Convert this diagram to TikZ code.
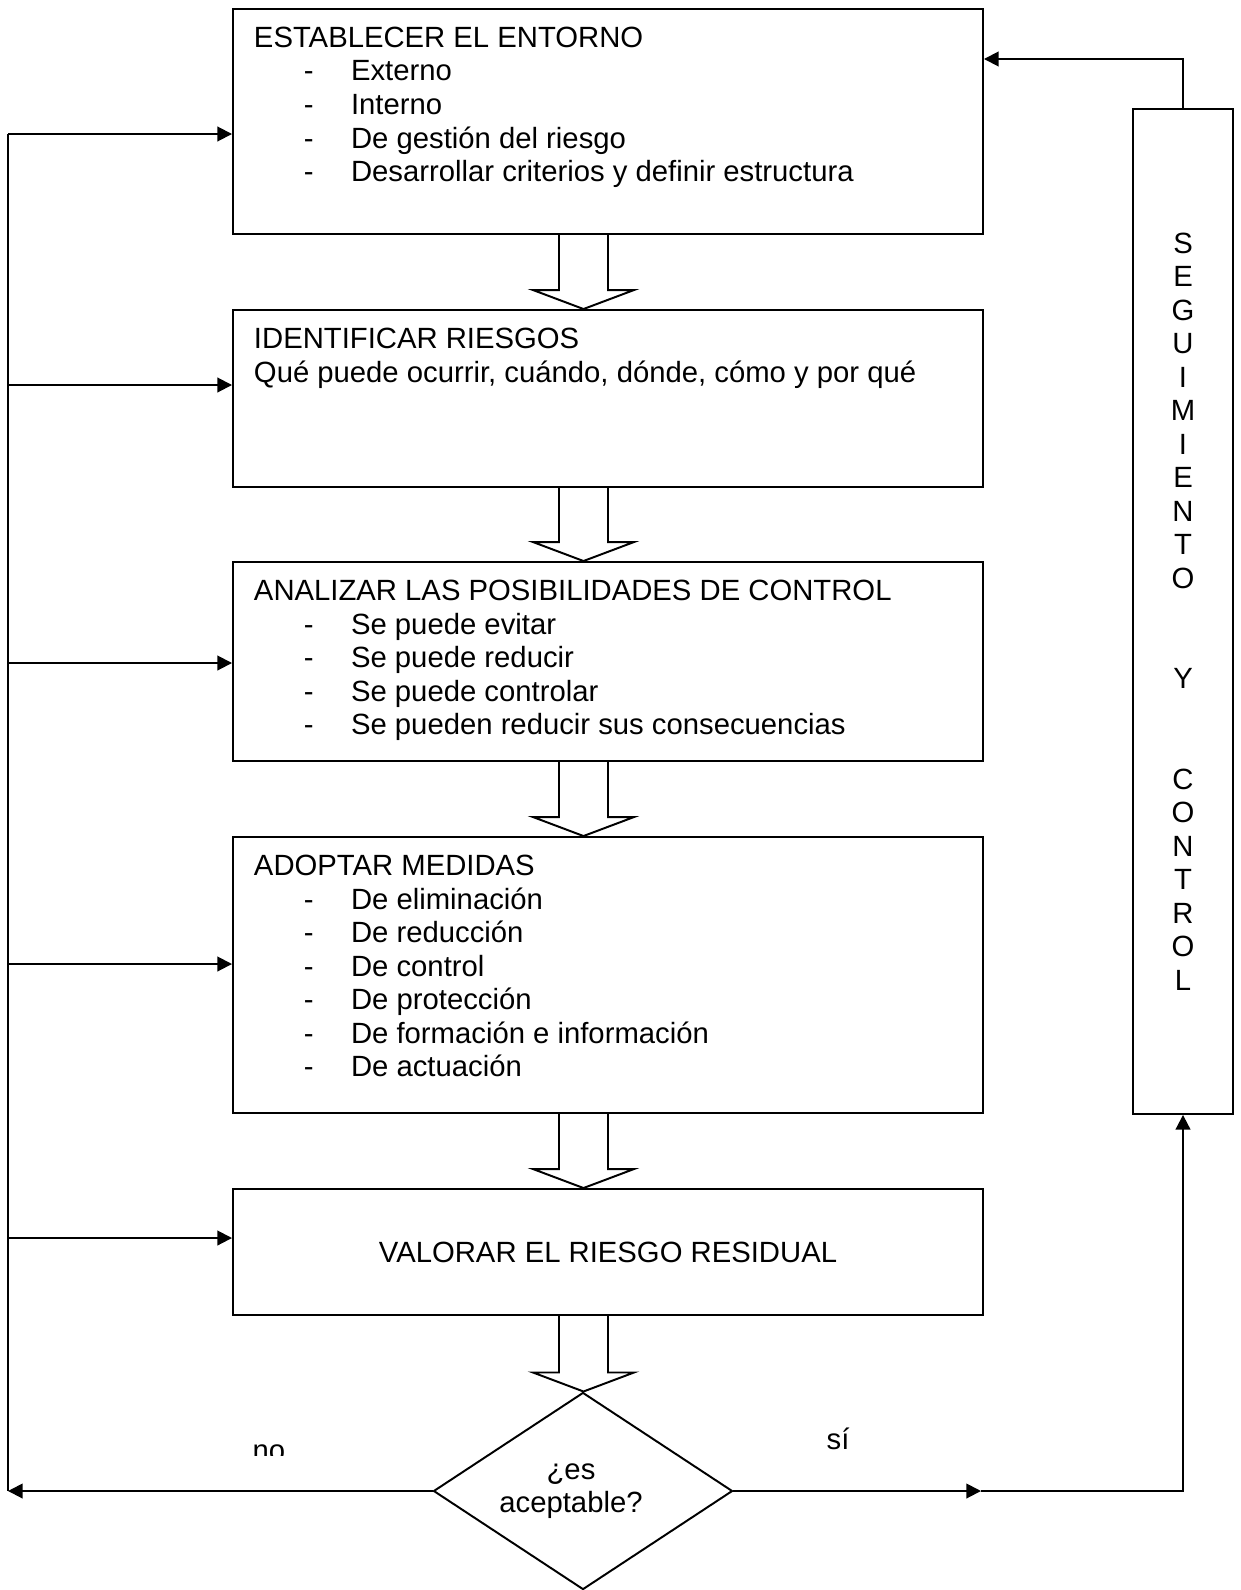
\documentclass[tikz,border=0pt]{standalone}
\usepackage{fontspec}
\setmainfont{Liberation Sans}
\usepackage{tikz}
\usetikzlibrary{arrows.meta,positioning,calc,shapes.geometric}

\newcommand{\itm}[1]{\hspace*{20.5pt}\makebox[19.3pt][l]{-}#1}

\begin{document}
\begin{tikzpicture}[>={Triangle[length=6pt,width=6pt]}, x=0.41pt, y=-0.41pt,
  line width=0.8pt,
  every node/.style={font=\fontsize{12}{13.74}\selectfont},
  box/.style={draw, line width=0.8pt, minimum width=307.5pt, inner sep=0pt},
  txt/.style={inner sep=0pt, align=left}]
  \useasboundingbox (0,0) rectangle (1241,1590);

  % Draw the boxes
  \node[box, minimum height=92.25pt] (b1) at (608,121.5) {};
  \node[box, minimum height=72.57pt] (b2) at (608,398.5) {};
  \node[box, minimum height=81.59pt] (b3) at (608,661.5) {};
  \node[box, minimum height=113.16pt] (b4) at (608,975) {};
  \node[box, minimum height=51.66pt] (b5) at (608,1252) {VALORAR EL RIESGO RESIDUAL};

  % Texts of the boxes
  \node[txt, below right=7.4pt and 8.6pt of b1.north west] (t1) {ESTABLECER EL ENTORNO\\
    \itm{Externo}\\
    \itm{Interno}\\
    \itm{De gestión del riesgo}\\
    \itm{Desarrollar criterios y definir estructura}};
  \node[txt, below right=7.4pt and 8.6pt of b2.north west] (t2) {IDENTIFICAR RIESGOS\\
    Qué puede ocurrir, cuándo, dónde, cómo y por qué};
  \node[txt, below right=7.4pt and 8.6pt of b3.north west] (t3) {ANALIZAR LAS POSIBILIDADES DE CONTROL\\
    \itm{Se puede evitar}\\
    \itm{Se puede reducir}\\
    \itm{Se puede controlar}\\
    \itm{Se pueden reducir sus consecuencias}};
  \node[txt, below right=7.4pt and 8.6pt of b4.north west] (t4) {ADOPTAR MEDIDAS\\
    \itm{De eliminación}\\
    \itm{De reducción}\\
    \itm{De control}\\
    \itm{De protección}\\
    \itm{De formación e información}\\
    \itm{De actuación}};

  % Decision
  \node[draw, diamond, inner sep=0pt, minimum width=122.6pt, minimum height=80.8pt] (dq) at (583,1491) {};
  \node[txt, align=center] (q) at (571,1491) {¿es\\aceptable?};

  % Side box
  \node[box, minimum width=41pt, minimum height=412pt, align=center] (sc) at (1183,611.5)
    {S\\E\\G\\U\\I\\M\\I\\E\\N\\T\\O\\\mbox{}\\\mbox{}\\Y\\\mbox{}\\\mbox{}\\C\\O\\N\\T\\R\\O\\L};

  % Hollow arrows between the steps
  \coordinate (ax) at (583.5,0);
  \foreach \a/\b in {b1/b2,b2/b3,b3/b4,b4/b5,b5/dq}
    \draw ($(\a.south -| ax)+(-24.5,0)$) -- ($(\b.north -| ax)+(-24.5,-19)$) -- ++(-26,0)
      -- (\b.north -| ax) -- ++(50.5,-19) -- ++(-26,0) -- ($(\a.south -| ax)+(24.5,0)$);

  % Feedback on the left
  \coordinate (l1) at (8,134);
  \coordinate (l2) at (8,385);
  \coordinate (l3) at (8,663);
  \coordinate (l4) at (8,964);
  \coordinate (l5) at (8,1238);
  \coordinate (lb) at (8,1491);
  \draw (l1) -- (lb);
  \foreach \i in {1,...,5}
    \draw[->] (l\i) -- (l\i -| b\i.west);
  \draw[->] (dq.west) -- (lb);

  % Output on the right
  \coordinate (ms) at (981,1491);
  \coordinate (tp) at (1183,59);
  \draw[->] (dq.east) -- (ms);
  \draw[->] (ms) -- (ms -| sc.south) -- (sc.south);
  \draw[->] (sc.north) -- (tp) -- (tp -| b1.east);

  % Labels
  \begin{scope}
    \clip (200,1400) rectangle (340,1455);
    \node[anchor=base] (no) at (269,1460) {no};
  \end{scope}
  \node[anchor=base] (si) at (838,1449) {sí};
\end{tikzpicture}
\end{document}
